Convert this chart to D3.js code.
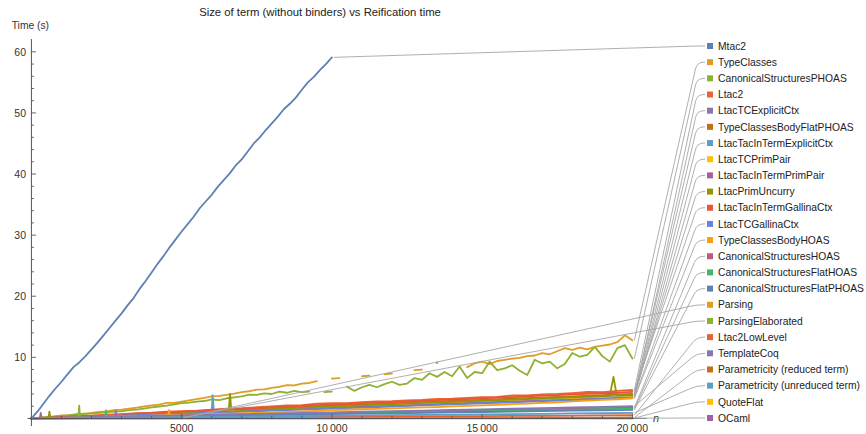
<!DOCTYPE html>
<html>
<head>
<meta charset="utf-8">
<script src="https://cdn.jsdelivr.net/npm/d3@7"></script>
<style>
  body { margin: 0; background: #fff; }
  text { font-family: "Liberation Sans", Arial, Helvetica, sans-serif; }
</style>
</head>
<body>
<svg id="chart" width="866" height="434"></svg>
<script>
// ---- Series names and colours (legend order) ----
const seriesNames = [
  "Mtac2", "TypeClasses", "CanonicalStructuresPHOAS", "Ltac2", "LtacTCExplicitCtx",
  "TypeClassesBodyFlatPHOAS", "LtacTacInTermExplicitCtx", "LtacTCPrimPair",
  "LtacTacInTermPrimPair", "LtacPrimUncurry", "LtacTacInTermGallinaCtx", "LtacTCGallinaCtx",
  "TypeClassesBodyHOAS", "CanonicalStructuresHOAS", "CanonicalStructuresFlatHOAS",
  "CanonicalStructuresFlatPHOAS", "Parsing", "ParsingElaborated", "Ltac2LowLevel",
  "TemplateCoq", "Parametricity (reduced term)", "Parametricity (unreduced term)",
  "QuoteFlat", "OCaml"
];
const seriesColors = [
  "#5e81b5", "#e19c24", "#8fb032", "#eb6235", "#8778b3", "#c56e1a", "#5d9ec7", "#ffbf00",
  "#a5609d", "#929600", "#e95536", "#6685d9", "#f89f13", "#bc5b80", "#47b66d", "#5e81b5",
  "#e19c24", "#8fb032", "#eb6235", "#8778b3", "#c56e1a", "#5d9ec7", "#ffbf00", "#a5609d"
];
// last n measured for each series (samples are evenly spaced from n = 0)
const seriesLastN = [
  10000, 20000, 20000, 20000, 20000, 20000, 20000, 20000, 20000, 20000, 20000, 20000,
  20000, 20000, 20000, 20000, 5000, 5000, 20000, 20000, 20000, 20000, 20000, 20000
];

// ---- Reification time in seconds ----
// n = 0, 200, ..., 10000
const mtac2 = [0, 1.1, 2.4, 3.7, 4.9, 6.0, 7.2, 8.4, 9.2, 10.2, 11.3, 12.4, 13.6, 14.8, 16.0,
  17.2, 18.5, 19.7, 21.2, 22.5, 23.9, 25.3, 26.6, 28.0, 29.3, 30.6, 31.8, 33.0, 34.4, 35.5,
  36.6, 37.9, 39.0, 40.1, 41.4, 42.4, 43.7, 45.0, 46.0, 47.2, 48.3, 49.4, 50.6, 51.5, 52.5,
  53.8, 55.0, 55.9, 57.0, 58.0, 59.1];
// n = 0, 250, ..., 20000 (null = no measurement)
const typeClasses = [0, 0.12, 0.25, 0.35, 0.48, 0.55, 0.68, 0.8, 0.9, 1.05, 1.15, 1.35, 1.42,
  1.62, 1.75, 1.95, 2.15, 2.25, 2.55, 2.55, 2.75, 2.95, 3.15, 3.35, 3.6, 3.7, 3.85, 4.05, 4.3,
  4.45, 4.7, 4.75, 5.0, 5.15, 5.45, 5.4, 5.7, 5.8, 6.1, null, 6.5, 6.6, null, null, 6.9, 7.0,
  null, 7.2, 7.35, null, null, 7.9, 8.0, null, 9.1, null, null, null, 8.4, 9.0, 9.3, 8.9, 9.4,
  9.6, 9.8, 9.9, 10.2, 10.3, 10.7, 10.5, 11.0, 11.5, 11.2, 11.6, 11.3, 11.7, 11.9, 12.1, 12.5,
  13.6, 12.8];
const canonicalStructuresPHOAS = [0, 0.1, 0.2, 0.3, 0.4, 0.5, 0.6, 0.7, 0.8, 0.9, 1.0, 1.1,
  1.15, 1.35, 1.45, 1.6, 1.8, 1.95, 2.1, 2.3, 2.5, 2.6, 2.75, 2.85, 3.1, 3.0, 3.3, 3.45, 3.6,
  3.9, 3.85, 4.1, 4.0, 4.4, 4.2, 4.5, 4.3, 4.4, null, 4.3, 4.4, null, 5.2, 4.5, 5.1, 5.5, 5.1,
  5.6, 6.0, 5.5, 5.7, 6.6, 6.3, 7.4, 6.8, 7.6, 6.9, 8.5, 6.6, 7.6, 7.4, 9.3, 7.9, 8.2, 8.7,
  7.8, 7.1, 9.6, 9.0, 9.3, 8.2, 8.9, 10.7, 10.1, 10.4, 11.7, 10.2, 9.3, 11.5, 12.0, 9.8];
// n = 0, 500, ..., 20000
const ltac2 = [0, 0.1, 0.22, 0.37, 0.46, 0.62, 0.7, 0.87, 0.95, 1.12, 1.2, 1.28, 1.45, 1.62,
  1.68, 1.83, 1.95, 2.12, 2.18, 2.4, 2.5, 2.5, 2.65, 2.8, 2.83, 2.93, 3.02, 3.2, 3.22, 3.35,
  3.5, 3.52, 3.75, 3.78, 3.95, 4.02, 4.15, 4.33, 4.3, 4.52, 4.65];
const ltacTacInTermGallinaCtx = [0, 0.09, 0.2, 0.32, 0.43, 0.55, 0.65, 0.77, 0.88, 1.0, 1.11,
  1.2, 1.34, 1.47, 1.57, 1.7, 1.8, 1.94, 2.04, 2.18, 2.28, 2.35, 2.47, 2.6, 2.68, 2.75, 2.88,
  3.0, 3.08, 3.16, 3.28, 3.4, 3.5, 3.6, 3.72, 3.8, 3.92, 4.04, 4.12, 4.2, 4.35];
const typeClassesBodyHOAS = [0, 0.05, 0.1, 0.16, 0.22, 0.28, 0.33, 0.39, 0.45, 0.52, 0.57,
  0.63, 0.7, 0.78, 0.84, 0.9, 0.99, 1.06, 1.16, 1.24, 1.36, 1.42, 1.5, 1.56, 1.65, 1.72, 1.8,
  1.86, 1.96, 2.04, 2.14, 2.22, 2.34, 2.42, 2.55, 2.64, 2.78, 2.9, 3.02, 3.14, 3.3];
// n = 0, 1000, ..., 20000
const ltacTCExplicitCtx = [0, 0.16, 0.35, 0.55, 0.74, 0.93, 1.14, 1.35, 1.55, 1.75, 1.95,
  2.12, 2.3, 2.48, 2.66, 2.85, 3.02, 3.2, 3.38, 3.55, 3.7];
const typeClassesBodyFlatPHOAS = [0, 0.18, 0.38, 0.59, 0.8, 1.0, 1.22, 1.44, 1.65, 1.87, 2.08,
  2.27, 2.46, 2.66, 2.86, 3.05, 3.24, 3.44, 3.62, 3.82, 4.0];
const ltacTacInTermExplicitCtx = [0, 0.15, 0.33, 0.52, 0.7, 0.89, 1.08, 1.27, 1.46, 1.66, 1.85,
  2.02, 2.2, 2.38, 2.56, 2.75, 2.93, 3.1, 3.28, 3.45, 3.6];
const ltacTCPrimPair = [0, 0.14, 0.31, 0.49, 0.67, 0.85, 1.03, 1.22, 1.4, 1.59, 1.78, 1.95,
  2.12, 2.3, 2.48, 2.66, 2.84, 3.01, 3.18, 3.36, 3.5];
const ltacTacInTermPrimPair = [0, 0.13, 0.3, 0.47, 0.64, 0.81, 0.99, 1.17, 1.35, 1.53, 1.72,
  1.88, 2.05, 2.22, 2.4, 2.58, 2.75, 2.92, 3.08, 3.25, 3.42];
const ltacPrimUncurry = [0, 0.16, 0.36, 0.56, 0.76, 0.96, 1.16, 1.37, 1.57, 1.78, 1.98, 2.16,
  2.35, 2.53, 2.72, 2.92, 3.1, 3.3, 3.48, 3.66, 3.85];
const ltacTCGallinaCtx = [0, 0.12, 0.28, 0.44, 0.6, 0.76, 0.93, 1.1, 1.27, 1.44, 1.62, 1.78,
  1.95, 2.12, 2.3, 2.48, 2.65, 2.82, 2.98, 3.15, 3.35];
const canonicalStructuresHOAS = [0, 0.08, 0.17, 0.26, 0.35, 0.44, 0.53, 0.62, 0.71, 0.8, 0.89,
  0.98, 1.07, 1.16, 1.25, 1.33, 1.42, 1.5, 1.58, 1.67, 1.75];
const canonicalStructuresFlatHOAS = [0, 0.07, 0.15, 0.23, 0.31, 0.39, 0.47, 0.55, 0.63, 0.72,
  0.8, 0.88, 0.96, 1.04, 1.12, 1.2, 1.28, 1.36, 1.44, 1.52, 1.6];
const canonicalStructuresFlatPHOAS = [0, 0.06, 0.13, 0.2, 0.27, 0.34, 0.41, 0.48, 0.55, 0.63,
  0.7, 0.77, 0.84, 0.91, 0.98, 1.05, 1.12, 1.19, 1.26, 1.33, 1.4];
const ltac2LowLevel = [0, 0.03, 0.05, 0.08, 0.1, 0.13, 0.15, 0.18, 0.2, 0.23, 0.26, 0.28, 0.31,
  0.33, 0.36, 0.38, 0.41, 0.44, 0.47, 0.5, 0.53];
const templateCoq = [0, 0.09, 0.19, 0.29, 0.39, 0.49, 0.59, 0.69, 0.79, 0.89, 0.99, 1.09, 1.19,
  1.29, 1.39, 1.49, 1.59, 1.69, 1.8, 1.9, 2.0];
const parametricityReduced = [0, 0.01, 0.02, 0.02, 0.03, 0.04, 0.05, 0.05, 0.06, 0.07, 0.08,
  0.08, 0.09, 0.1, 0.11, 0.11, 0.12, 0.13, 0.14, 0.14, 0.15];
const parametricityUnreduced = [0, 0.04, 0.09, 0.13, 0.18, 0.22, 0.27, 0.31, 0.36, 0.4, 0.45,
  0.49, 0.54, 0.58, 0.63, 0.67, 0.72, 0.76, 0.81, 0.85, 0.9];
const quoteFlat = [0, 0.0, 0.01, 0.01, 0.01, 0.02, 0.02, 0.02, 0.03, 0.03, 0.03, 0.03, 0.04,
  0.04, 0.04, 0.04, 0.05, 0.05, 0.05, 0.06, 0.06];
const oCaml = [0, 0.0, 0.0, 0.01, 0.01, 0.01, 0.01, 0.01, 0.01, 0.02, 0.02, 0.02, 0.02, 0.02,
  0.02, 0.02, 0.02, 0.03, 0.03, 0.03, 0.03];
// n = 0, 1000, ..., 5000
const parsing = [0, 0.03, 0.05, 0.07, 0.08, 0.1];
const parsingElaborated = [0, 0.05, 0.08, 0.11, 0.13, 0.15];

// Single-run outliers: [series, [[n, seconds], ...]]
const outliers = [
  ["LtacPrimUncurry", [[570, 0.12], [600, 1.1], [630, 0.13], [6570, 1.45], [6610, 4.0],
    [6650, 1.47], [19250, 3.72], [19370, 6.8], [19480, 3.76]]],
  ["LtacTacInTermExplicitCtx", [[5980, 1.3], [6030, 3.8], [6070, 1.32]]],
  ["ParsingElaborated", [[1560, 0.1], [1590, 2.1], [1620, 0.1]]],
  ["CanonicalStructuresFlatHOAS", [[2450, 0.2], [2480, 1.3], [2510, 0.21]]],
  ["TemplateCoq", [[2780, 0.27], [2810, 1.25], [2840, 0.28]]],
  ["LtacTacInTermPrimPair", [[280, 0.04], [310, 0.9], [340, 0.05]]],
  ["TypeClassesBodyHOAS", [[4550, 0.52], [4580, 1.4], [4610, 0.53]]]
];

const seriesValues = [
  mtac2, typeClasses, canonicalStructuresPHOAS, ltac2, ltacTCExplicitCtx,
  typeClassesBodyFlatPHOAS, ltacTacInTermExplicitCtx, ltacTCPrimPair, ltacTacInTermPrimPair,
  ltacPrimUncurry, ltacTacInTermGallinaCtx, ltacTCGallinaCtx, typeClassesBodyHOAS,
  canonicalStructuresHOAS, canonicalStructuresFlatHOAS, canonicalStructuresFlatPHOAS,
  parsing, parsingElaborated, ltac2LowLevel, templateCoq, parametricityReduced,
  parametricityUnreduced, quoteFlat, oCaml
];

// ---- Axis ticks ----
const xMajorTicks = [5000, 10000, 15000, 20000];
const xTickLabels = ["5000", "10\u2009000", "15\u2009000", "20\u2009000"];
const yMajorTicks = [10, 20, 30, 40, 50, 60];
const yTickLabels = ["10", "20", "30", "40", "50", "60"];

// ---- Build chart ----
const svg = d3.select("#chart");
const x = d3.scaleLinear().domain([-130, 20480]).range([27.5, 646.8]);
const y = d3.scaleLinear().domain([-1.24, 62.1]).range([426, 39]);

const series = seriesNames.map((name, i) => {
  const vals = seriesValues[i];
  const step = seriesLastN[i] / (vals.length - 1);
  let pts = vals.map((t, k) => ({ n: k * step, t }));
  const extra = outliers.find(o => o[0] === name);
  if (extra) {
    pts = pts.concat(extra[1].map(([n, t]) => ({ n, t })));
    pts.sort((a, b) => a.n - b.n);
  }
  return { name, color: seriesColors[i], pts };
});

const line = d3.line()
  .defined(d => d.t !== null)
  .x(d => x(d.n))
  .y(d => y(d.t));

const plot = svg.append("g");
series.forEach(s => {
  plot.append("path")
    .attr("d", line(s.pts))
    .attr("fill", "none")
    .attr("stroke", s.color)
    .attr("stroke-width", 1.8)
    .attr("stroke-linejoin", "round")
    .attr("stroke-linecap", "round");
  // measurements with no neighbour on either side
  const lonely = s.pts.filter((d, k) => d.t !== null &&
    (k === 0 || s.pts[k - 1].t === null) && (k === s.pts.length - 1 || s.pts[k + 1].t === null));
  plot.selectAll(null).data(lonely).enter().append("circle")
    .attr("cx", d => x(d.n)).attr("cy", d => y(d.t)).attr("r", 1.3)
    .attr("fill", s.color);
});

// ---- Axes ----
const axisColor = "#555";
const axes = svg.append("g");
axes.append("line").attr("x1", x(-130)).attr("x2", x(20480)).attr("y1", y(0)).attr("y2", y(0))
  .attr("stroke", axisColor).attr("stroke-width", 1);
axes.append("line").attr("x1", x(0)).attr("x2", x(0)).attr("y1", y(-1.24)).attr("y2", y(62.1))
  .attr("stroke", axisColor).attr("stroke-width", 1);

d3.range(1000, 20001, 1000).forEach(n => {
  const major = xMajorTicks.includes(n);
  axes.append("line").attr("x1", x(n)).attr("x2", x(n))
    .attr("y1", y(0)).attr("y2", y(0) - (major ? 4.5 : 2.5))
    .attr("stroke", axisColor).attr("stroke-width", 0.9);
});
d3.range(2, 62, 2).forEach(v => {
  const major = yMajorTicks.includes(v);
  axes.append("line").attr("x1", x(0)).attr("x2", x(0) + (major ? 4.5 : 2.5))
    .attr("y1", y(v)).attr("y2", y(v))
    .attr("stroke", axisColor).attr("stroke-width", 0.9);
});

axes.selectAll(".xl").data(xMajorTicks).enter().append("text")
  .attr("x", d => x(d)).attr("y", 432)
  .attr("text-anchor", "middle").attr("font-size", 10.5).attr("fill", "#333")
  .text((d, i) => xTickLabels[i]);
axes.selectAll(".yl").data(yMajorTicks).enter().append("text")
  .attr("x", 26).attr("y", d => y(d) + 3.8)
  .attr("text-anchor", "end").attr("font-size", 10.5).attr("fill", "#333")
  .text((d, i) => yTickLabels[i]);

svg.append("text").attr("x", 11.7).attr("y", 29).attr("font-size", 10.3).attr("fill", "#333")
  .text("Time (s)");
svg.append("text").attr("x", 653).attr("y", 421.5).attr("font-size", 11).attr("font-style", "italic")
  .attr("fill", "#333").text("n");
svg.append("text").attr("x", 320).attr("y", 16).attr("text-anchor", "middle")
  .attr("font-size", 11.3).attr("fill", "#222")
  .text("Size of term (without binders) vs Reification time");

// ---- Labels with leader lines ----
const labelTop = 46, labelBottom = 418;
const labelGap = (labelBottom - labelTop) / (seriesNames.length - 1);
const cornerX = 697, bend = 7, squareX = 707;

function leaderPath(x0, y0, yl) {
  const dx = cornerX - x0, dy = yl - y0, len = Math.hypot(dx, dy);
  const px = cornerX - dx / len * bend, py = yl - dy / len * bend;
  return `M${x0},${y0}L${px},${py}Q${cornerX},${yl} ${cornerX + bend},${yl}L${squareX - 2},${yl}`;
}

const legend = svg.append("g");
series.forEach((s, i) => {
  const yl = labelTop + i * labelGap;
  const last = s.pts.filter(d => d.t !== null).slice(-1)[0];
  legend.append("path")
    .attr("d", leaderPath(x(last.n) + 2, y(last.t), yl))
    .attr("fill", "none").attr("stroke", "#a6a6a6").attr("stroke-width", 0.9);
  legend.append("rect").attr("x", squareX).attr("y", yl - 3).attr("width", 6).attr("height", 6)
    .attr("fill", s.color);
  legend.append("text").attr("x", 718).attr("y", yl + 3.7).attr("font-size", 10.3)
    .attr("fill", "#222").text(s.name);
});
</script>
</body>
</html>
